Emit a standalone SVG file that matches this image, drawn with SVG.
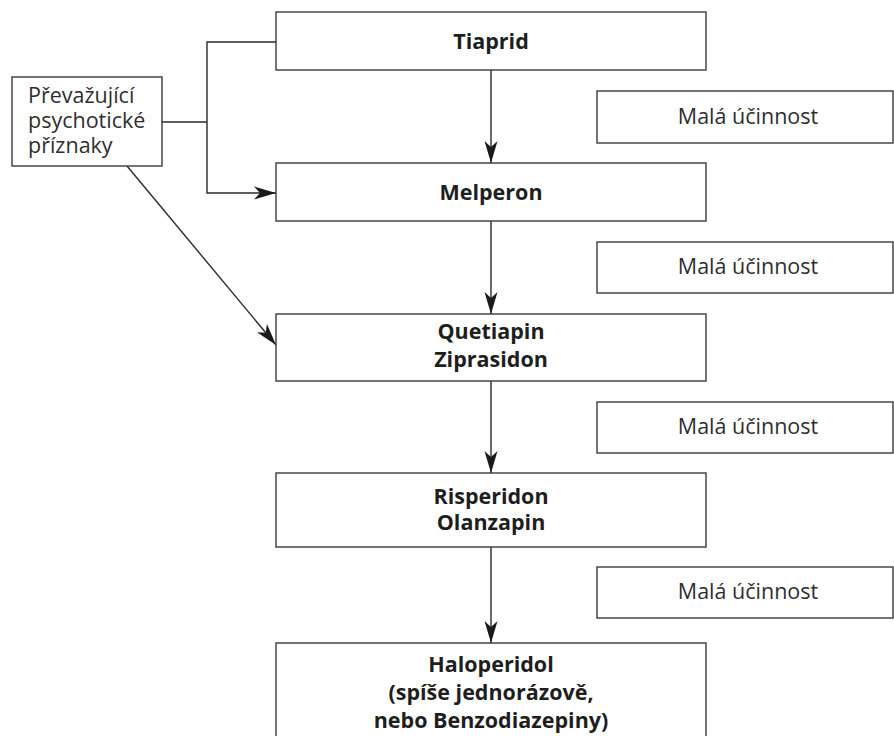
<svg xmlns="http://www.w3.org/2000/svg" width="894" height="736" viewBox="0 0 894 736">
  <defs>
    <marker id="arrow" markerUnits="userSpaceOnUse" markerWidth="24" markerHeight="14" refX="22" refY="7" orient="auto">
      <path d="M0,0.5 L22,7 L0,13.5 L6,7 Z" fill="#1a1a1a"/>
    </marker>
    <style>
      .box { fill: #ffffff; stroke: #3a3a3a; stroke-width: 1.4; }
      .edge { fill: none; stroke: #2a2a2a; stroke-width: 1.4; }
      .bold { font-family: "Open Sans", "Liberation Sans", sans-serif; font-weight: 700; font-size: 21.5px; fill: #1e1e1e; text-anchor: middle; }
      .light { font-family: "Open Sans", "Liberation Sans", sans-serif; font-weight: 400; font-size: 21.5px; fill: #2e2e2e; }
      .mid { text-anchor: middle; }
    </style>
  </defs>
  <rect width="894" height="736" fill="#ffffff"/>

  <!-- connectors -->
  <g id="connectors">
    <polyline class="edge" points="276,42 207,42 207,193 276,193" marker-end="url(#arrow)"/>
    <line class="edge" x1="162" y1="122" x2="207" y2="122"/>
    <line class="edge" x1="127" y1="166" x2="276" y2="345" marker-end="url(#arrow)"/>
    <line class="edge" x1="491" y1="70" x2="491" y2="163" marker-end="url(#arrow)"/>
    <line class="edge" x1="491" y1="221" x2="491" y2="314" marker-end="url(#arrow)"/>
    <line class="edge" x1="491" y1="381" x2="491" y2="473" marker-end="url(#arrow)"/>
    <line class="edge" x1="491" y1="547" x2="491" y2="643" marker-end="url(#arrow)"/>
  </g>

  <!-- side condition -->
  <g id="psychoticke">
    <rect class="box" x="12" y="77" width="150" height="89"/>
    <text class="light" x="28" y="103">Převažující</text>
    <text class="light" x="28" y="128">psychotické</text>
    <text class="light" x="28" y="153">příznaky</text>
  </g>

  <!-- main treatment steps -->
  <g id="tiaprid">
    <rect class="box" x="276" y="12" width="430" height="58"/>
    <text class="bold" x="491" y="49">Tiaprid</text>
  </g>
  <g id="melperon">
    <rect class="box" x="276" y="163" width="430" height="58"/>
    <text class="bold" x="491" y="200">Melperon</text>
  </g>
  <g id="quetiapin">
    <rect class="box" x="276" y="314" width="430" height="67"/>
    <text class="bold" x="491" y="339">Quetiapin</text>
    <text class="bold" x="491" y="367">Ziprasidon</text>
  </g>
  <g id="risperidon">
    <rect class="box" x="276" y="473" width="430" height="74"/>
    <text class="bold" x="491" y="504">Risperidon</text>
    <text class="bold" x="491" y="530">Olanzapin</text>
  </g>
  <g id="haloperidol">
    <rect class="box" x="276" y="643" width="430" height="100"/>
    <text class="bold" x="491" y="672">Haloperidol</text>
    <text class="bold" x="491" y="700">(spíše jednorázově,</text>
    <text class="bold" x="491" y="728">nebo Benzodiazepiny)</text>
  </g>

  <!-- low efficacy notes -->
  <g id="mala1">
    <rect class="box" x="597" y="91" width="296" height="52"/>
    <text class="light mid" x="748" y="124">Malá účinnost</text>
  </g>
  <g id="mala2">
    <rect class="box" x="597" y="242" width="296" height="51"/>
    <text class="light mid" x="748" y="274">Malá účinnost</text>
  </g>
  <g id="mala3">
    <rect class="box" x="597" y="402" width="296" height="51"/>
    <text class="light mid" x="748" y="434">Malá účinnost</text>
  </g>
  <g id="mala4">
    <rect class="box" x="597" y="567" width="296" height="51"/>
    <text class="light mid" x="748" y="599">Malá účinnost</text>
  </g>
</svg>
